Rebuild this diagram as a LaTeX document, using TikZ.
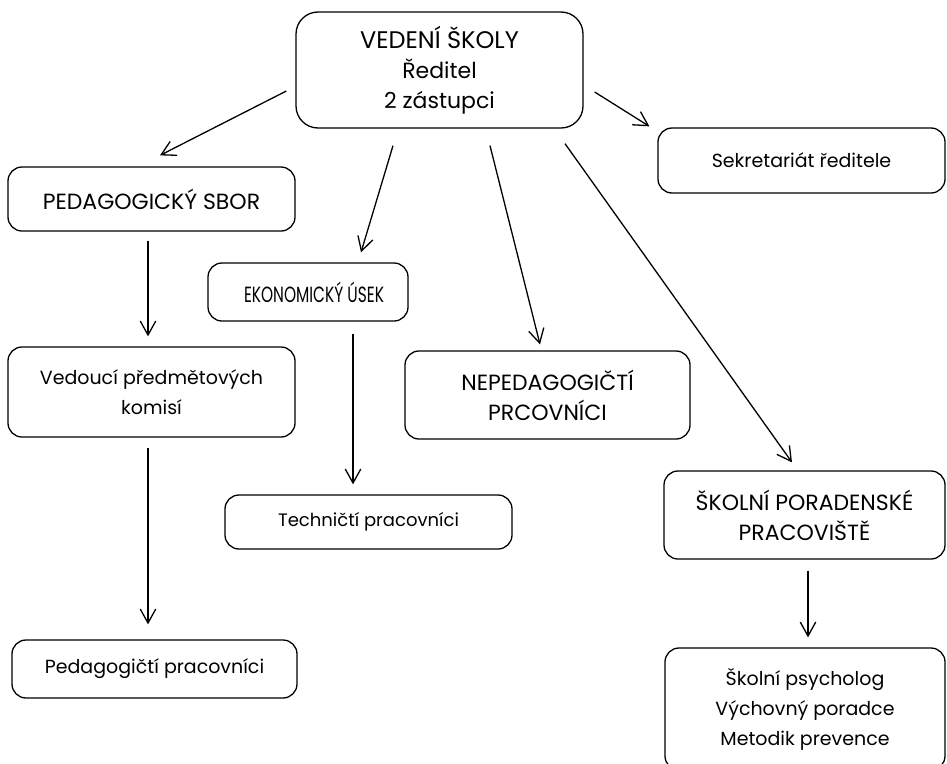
\documentclass[tikz,border=0pt]{standalone}
\usepackage{fontspec}
\setmainfont{Poppins}
\usetikzlibrary{arrows.meta}

\begin{document}
\begin{tikzpicture}[
  x=1pt, y=-1pt,
  box/.style={draw, line width=1.3pt, rounded corners=14pt, align=center,
    font=\fontsize{19}{30}\selectfont, inner sep=0pt},
  caps/.style={font=\fontsize{22}{30}\selectfont},
  arr/.style={line width=1.3pt, -{Straight Barb[angle=58:16pt, line width=1.3pt]}}
  ]
  \useasboundingbox (0, 0) rectangle (947, 763);

  % boxes
  \node [box, minimum width=287, minimum height=116, rounded corners=22pt, font=\fontsize{22}{30}\selectfont]
    (vedeni) at (439.5, 70) {{\fontsize{24}{30}\selectfont VEDENÍ ŠKOLY}\\Ředitel\\2 zástupci};
  \node [box, caps, minimum width=287, minimum height=64]
    (sbor) at (151.5, 199) {PEDAGOGICKÝ SBOR};
  \node [box, minimum width=287, minimum height=65]
    (sekretariat) at (801.5, 160.5) {Sekretariát ředitele};
  \node [box, caps, minimum width=200, minimum height=58]
    (ekonom) at (308, 292) {\hspace*{12pt}\scalebox{0.7}[1]{EKONOMICKÝ ÚSEK}};
  \node [box, minimum width=287, minimum height=90]
    (komise) at (151.5, 392) {Vedoucí předmětových\\komisí};
  \node [box, caps, minimum width=285, minimum height=88]
    (nepedag) at (547.5, 395) {NEPEDAGOGIČTÍ\\PRCOVNÍCI};
  \node [box, minimum width=287, minimum height=54, font=\fontsize{18}{30}\selectfont]
    (technici) at (368.5, 522) {Techničtí pracovníci};
  \node [box, caps, minimum width=281, minimum height=88]
    (poradna) at (804.5, 515) {ŠKOLNÍ PORADENSKÉ\\PRACOVIŠTĚ};
  \node [box, minimum width=285, minimum height=58]
    (pedprac) at (154.5, 669) {Pedagogičtí pracovníci};
  \node [box, minimum width=280, minimum height=122]
    (psycholog) at (805, 709) {Školní psycholog\\Výchovný poradce\\Metodik prevence};

  % arrows
  \draw [arr] ([shift={(-9, 21)}]vedeni.west) -- ([shift={(8.5, -11)}]sbor.north);
  \draw [arr] ([shift={(-46.5, 17)}]vedeni.south) -- ([shift={(53, -10)}]ekonom.north);
  \draw [arr] ([shift={(50.5, 17)}]vedeni.south) -- ([shift={(-7.5, -6)}]nepedag.north);
  \draw [arr] ([shift={(125.5, 15)}]vedeni.south) -- ([shift={(-12.5, -8)}]poradna.north);
  \draw [arr] ([shift={(11, 22)}]vedeni.east) -- ([shift={(-8, -1)}]sekretariat.north west);
  \draw [arr] ([shift={(-3.5, 9)}]sbor.south) -- ([shift={(-3.5, -10)}]komise.north);
  \draw [arr] ([shift={(45, 12)}]ekonom.south) -- ([shift={(-15.5, -10)}]technici.north);
  \draw [arr] ([shift={(-3.5, 10)}]komise.south) -- ([shift={(-6.5, -15)}]pedprac.north);
  \draw [arr] ([shift={(3.5, 11)}]poradna.south) -- ([shift={(3, -10)}]psycholog.north);
\end{tikzpicture}
\end{document}
